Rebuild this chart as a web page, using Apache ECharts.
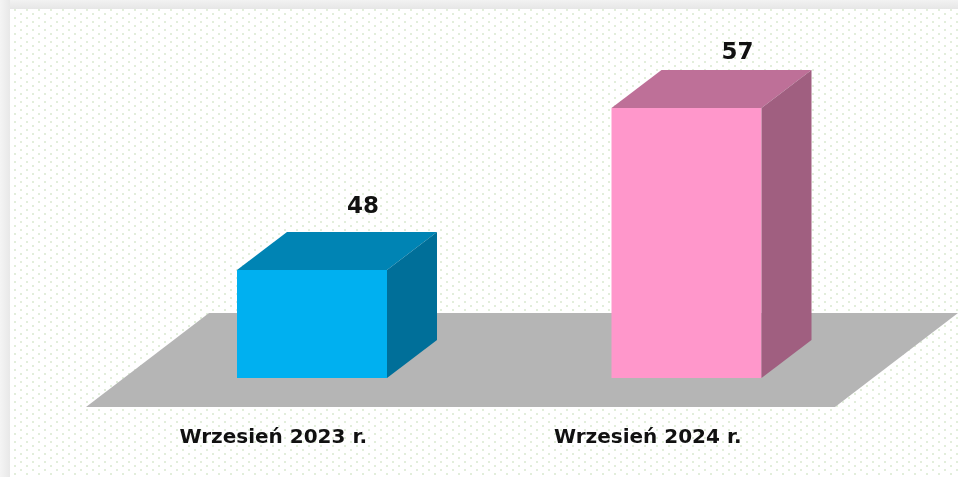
<!DOCTYPE html>
<html><head><meta charset="utf-8">
<style>html,body{margin:0;padding:0;background:#fff;overflow:hidden}#c{width:958px;height:477px;filter:blur(0.5px)}</style>
<script src="https://cdn.jsdelivr.net/npm/echarts@6/dist/echarts.min.js"></script>
</head><body><div id="c"></div>
<script>
const categories = ['Wrzesień 2023 r.', 'Wrzesień 2024 r.'];
const values = [48, 57];
const frontColors = ['#00b0f0', '#ff97cb'];
const topColors = ['#0084b4', '#be7098'];
const sideColors = ['#006f99', '#a05f80'];
const labelLift = [63, 55];

const tile = document.createElement('canvas');
tile.width = 12; tile.height = 8;
const t = tile.getContext('2d');
t.fillStyle = '#fff'; t.fillRect(0, 0, 12, 8);
t.fillStyle = '#e2eedb';
t.fillRect(2, 1, 2, 2); t.fillRect(8, 5, 2, 2);

const chart = echarts.init(document.getElementById('c'), null, {renderer: 'canvas'});
const DX = 50, DY = 38, FRONT = 38.75, BW = 150, FLOORDROP = 29, FLOORDX = 123, FLOORDY = 94;
const band = (x0, y0, x1, y1, a, b) => ({type: 'linear', x: x0, y: y0, x2: x1, y2: y1, global: true,
  colorStops: [{offset: 0, color: a}, {offset: 1, color: b}]});

chart.setOption({
  animation: false,
  backgroundColor: '#ffffff',
  graphic: [
    {type: 'rect', z: -12, shape: {x: 0, y: 0, width: 958, height: 9}, style: {fill: band(0, 0, 0, 9, '#f2f2f2', '#e6e6e6')}},
    {type: 'rect', z: -11, shape: {x: 0, y: 0, width: 10, height: 477}, style: {fill: band(0, 0, 10, 0, '#f4f4f4', '#e8e8e8')}},
    {type: 'rect', z: -10, shape: {x: 10, y: 9, width: 948, height: 468}, style: {fill: {image: tile, repeat: 'repeat'}}}
  ],
  grid: {left: 86, width: 749, top: 54, height: 324},
  xAxis: {type: 'category', data: categories, axisLine: {show: false}, axisTick: {show: false},
    axisLabel: {margin: 50, color: '#111', fontFamily: 'DejaVu Sans', fontWeight: 'bold', fontSize: 20}},
  yAxis: {type: 'value', min: 42, max: 60, show: false, splitLine: {show: false}},
  series: [
    {type: 'custom', z: 1, silent: true, data: [[0, 42]], renderItem(params, api) {
      const c = params.coordSys;
      const y = c.y + c.height + FLOORDROP;
      const x0 = c.x, x1 = c.x + c.width;
      return {type: 'polygon', shape: {points: [[x0, y], [x1, y], [x1 + FLOORDX, y - FLOORDY], [x0 + FLOORDX, y - FLOORDY]]}, style: {fill: '#b5b5b5'}};
    }},
    {type: 'custom', z: 2, data: values.map((v, i) => [i, v]), encode: {x: 0, y: 1}, clip: false, renderItem(params, api) {
      const i = params.dataIndex;
      const top = api.coord([api.value(0), api.value(1)]);
      const base = api.coord([api.value(0), 42]);
      const x0 = top[0] + FRONT - BW / 2, x1 = x0 + BW;
      const yt = top[1], yb = base[1];
      return {type: 'group', children: [
        {type: 'polygon', shape: {points: [[x0, yb], [x0, yt], [x1, yt], [x1, yb]]}, style: {fill: frontColors[i]}},
        {type: 'polygon', shape: {points: [[x0, yt], [x0 + DX, yt - DY], [x1 + DX, yt - DY], [x1, yt]]}, style: {fill: topColors[i]}},
        {type: 'polygon', shape: {points: [[x1, yt], [x1 + DX, yt - DY], [x1 + DX, yb - DY], [x1, yb]]}, style: {fill: sideColors[i]}},
        {type: 'text', style: {text: String(values[i]), x: x1 - 24, y: yt - labelLift[i], align: 'center', verticalAlign: 'middle', fill: '#111', font: 'bold 23px "DejaVu Sans"'}}
      ]};
    }}
  ]
});
</script></body></html>
